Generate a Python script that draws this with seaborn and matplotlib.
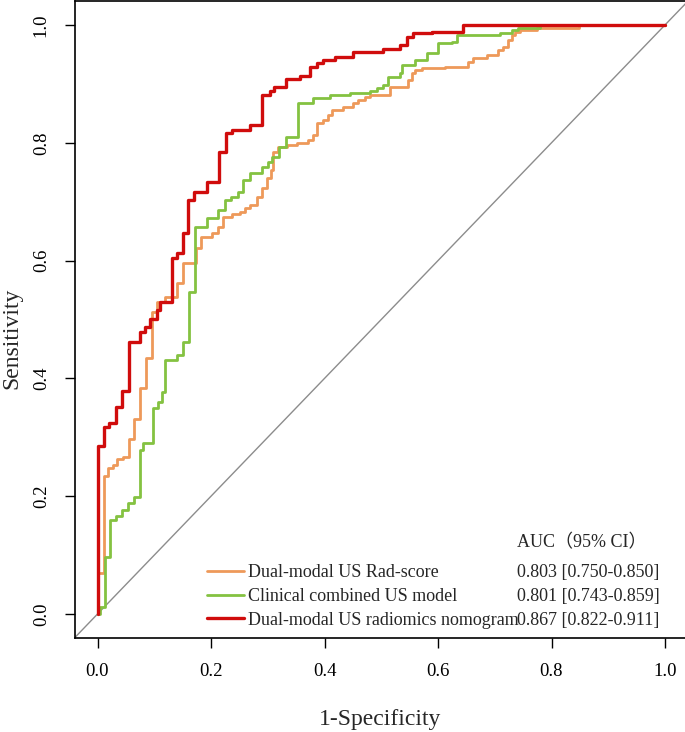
import matplotlib
matplotlib.use("Agg")
import matplotlib.pyplot as plt
import seaborn as sns

# ROC step vertices: (1-specificity, sensitivity) at each rise
fpr_radscore = [0.0, 0.0, 0.011, 0.019, 0.027, 0.034, 0.045, 0.056, 0.064, 0.075, 0.085,
                0.096, 0.105, 0.119, 0.140, 0.151, 0.174, 0.182, 0.202, 0.212, 0.221,
                0.237, 0.251, 0.260, 0.269, 0.281, 0.290, 0.299, 0.306, 0.309, 0.318,
                0.334, 0.352, 0.371, 0.380, 0.387, 0.397, 0.406, 0.413, 0.433, 0.450,
                0.459, 0.471, 0.480, 0.515, 0.547, 0.554, 0.559, 0.572, 0.612, 0.653,
                0.662, 0.686, 0.706, 0.715, 0.724, 0.730, 0.736, 0.745, 0.774, 0.849, 1.0]
tpr_radscore = [0.0, 0.070, 0.234, 0.248, 0.253, 0.263, 0.267, 0.297, 0.331, 0.384, 0.435,
                0.513, 0.530, 0.538, 0.562, 0.596, 0.621, 0.640, 0.647, 0.657, 0.674,
                0.679, 0.683, 0.689, 0.694, 0.708, 0.723, 0.740, 0.754, 0.784, 0.793,
                0.796, 0.800, 0.805, 0.813, 0.834, 0.839, 0.847, 0.856, 0.861, 0.868,
                0.873, 0.878, 0.881, 0.895, 0.907, 0.918, 0.924, 0.927, 0.929, 0.937,
                0.944, 0.949, 0.958, 0.963, 0.975, 0.983, 0.988, 0.992, 0.995, 1.0, 1.0]

fpr_clinical = [0.0, 0.004, 0.013, 0.022, 0.033, 0.043, 0.054, 0.064, 0.075, 0.080, 0.098,
                0.107, 0.113, 0.119, 0.140, 0.151, 0.161, 0.172, 0.193, 0.212, 0.224,
                0.236, 0.248, 0.257, 0.269, 0.290, 0.300, 0.307, 0.319, 0.333, 0.353,
                0.380, 0.410, 0.445, 0.480, 0.492, 0.503, 0.512, 0.533, 0.537, 0.559,
                0.580, 0.600, 0.625, 0.633, 0.709, 0.730, 0.741, 0.780, 1.0]
tpr_clinical = [0.0, 0.012, 0.097, 0.160, 0.166, 0.177, 0.188, 0.199, 0.278, 0.290, 0.350,
                0.360, 0.377, 0.431, 0.440, 0.462, 0.547, 0.657, 0.672, 0.686, 0.703,
                0.708, 0.717, 0.737, 0.749, 0.759, 0.767, 0.776, 0.793, 0.810, 0.868,
                0.876, 0.881, 0.885, 0.888, 0.893, 0.898, 0.912, 0.918, 0.932, 0.941,
                0.952, 0.969, 0.971, 0.983, 0.986, 0.992, 0.995, 1.0, 1.0]

fpr_nomogram = [0.0, 0.0, 0.011, 0.020, 0.033, 0.043, 0.056, 0.075, 0.084, 0.092, 0.105,
                0.110, 0.131, 0.140, 0.151, 0.160, 0.170, 0.193, 0.214, 0.226, 0.237,
                0.269, 0.290, 0.304, 0.311, 0.333, 0.357, 0.374, 0.387, 0.398, 0.418,
                0.450, 0.503, 0.533, 0.545, 0.556, 0.589, 0.644, 1.0]
tpr_nomogram = [0.0, 0.285, 0.317, 0.324, 0.351, 0.379, 0.462, 0.479, 0.487, 0.501, 0.516,
                0.530, 0.604, 0.613, 0.647, 0.703, 0.717, 0.734, 0.785, 0.816, 0.822,
                0.830, 0.881, 0.888, 0.894, 0.908, 0.913, 0.929, 0.935, 0.941, 0.946,
                0.954, 0.959, 0.966, 0.980, 0.986, 0.988, 1.0, 1.0]

model_names = ["Dual-modal US Rad-score", "Clinical combined US model",
               "Dual-modal US radiomics nomogram"]
auc_text = ["0.803 [0.750-0.850]", "0.801 [0.743-0.859]", "0.867 [0.822-0.911]"]
colors = ["#EE995A", "#84C241", "#D00C0C"]
widths = [2.0, 2.0, 2.4]
ticks = [0.0, 0.2, 0.4, 0.6, 0.8, 1.0]

sns.set_style("white")
plt.rcParams["font.family"] = ["Liberation Serif", "Noto Sans CJK SC"]

W, H = 685, 732
fig = plt.figure(figsize=(W / 100, H / 100), dpi=100)
ax = fig.add_axes([74.8 / W, 1 - 637.6 / H, 612.9 / W, 636.2 / H])

# chance line, corner to corner
ax.plot([-0.04, 1.04], [-0.04, 1.04], color="#8c8c8c", lw=1.0, zorder=1)

curves = [(fpr_radscore, tpr_radscore), (fpr_clinical, tpr_clinical),
          (fpr_nomogram, tpr_nomogram)]
for (fx, ty), name, c, lw in zip(curves, model_names, colors, widths):
    sns.lineplot(x=fx, y=ty, ax=ax, color=c, lw=lw, estimator=None, sort=False,
                 drawstyle="steps-post", label=name, zorder=2)

ax.set_xlim(-0.04, 1.04)
ax.set_ylim(-0.04, 1.04)
ax.set_xticks(ticks)
ax.set_yticks(ticks)
ax.set_xticklabels([f"{t:.1f}" for t in ticks])
ax.set_yticklabels([f"{t:.1f}" for t in ticks], rotation=90, va="center")
ax.tick_params(direction="out", length=7, width=1.0, pad=11, labelsize=13.5,
               colors="black", bottom=True, left=True)
for s in ax.spines.values():
    s.set_color("black")
    s.set_linewidth(1.2)

ax.set_xlabel("1-Specificity", fontsize=17)
ax.set_ylabel("Sensitivity", fontsize=17)
ax.xaxis.set_label_coords((380 - 74.8) / 612.9, -(709 - 637.6) / 636.2)
ax.yaxis.set_label_coords((22 - 74.8) / 612.9, (637.6 - 338) / 636.2)

leg = ax.legend(loc="upper left", bbox_to_anchor=(207 / W, 1 - 564 / H),
                bbox_transform=fig.transFigure, frameon=False, fontsize=13,
                handlelength=2.05, handletextpad=0.2, labelspacing=0.38,
                borderpad=0, borderaxespad=0)

fig.text(517 / W, 1 - 543 / H, "AUC（95% CI）", fontsize=13, va="center")
for i, t in enumerate(auc_text):
    fig.text(517 / W, 1 - [573, 597, 620][i] / H, t, fontsize=13, va="center")

fig.savefig("out.png", dpi=100)
